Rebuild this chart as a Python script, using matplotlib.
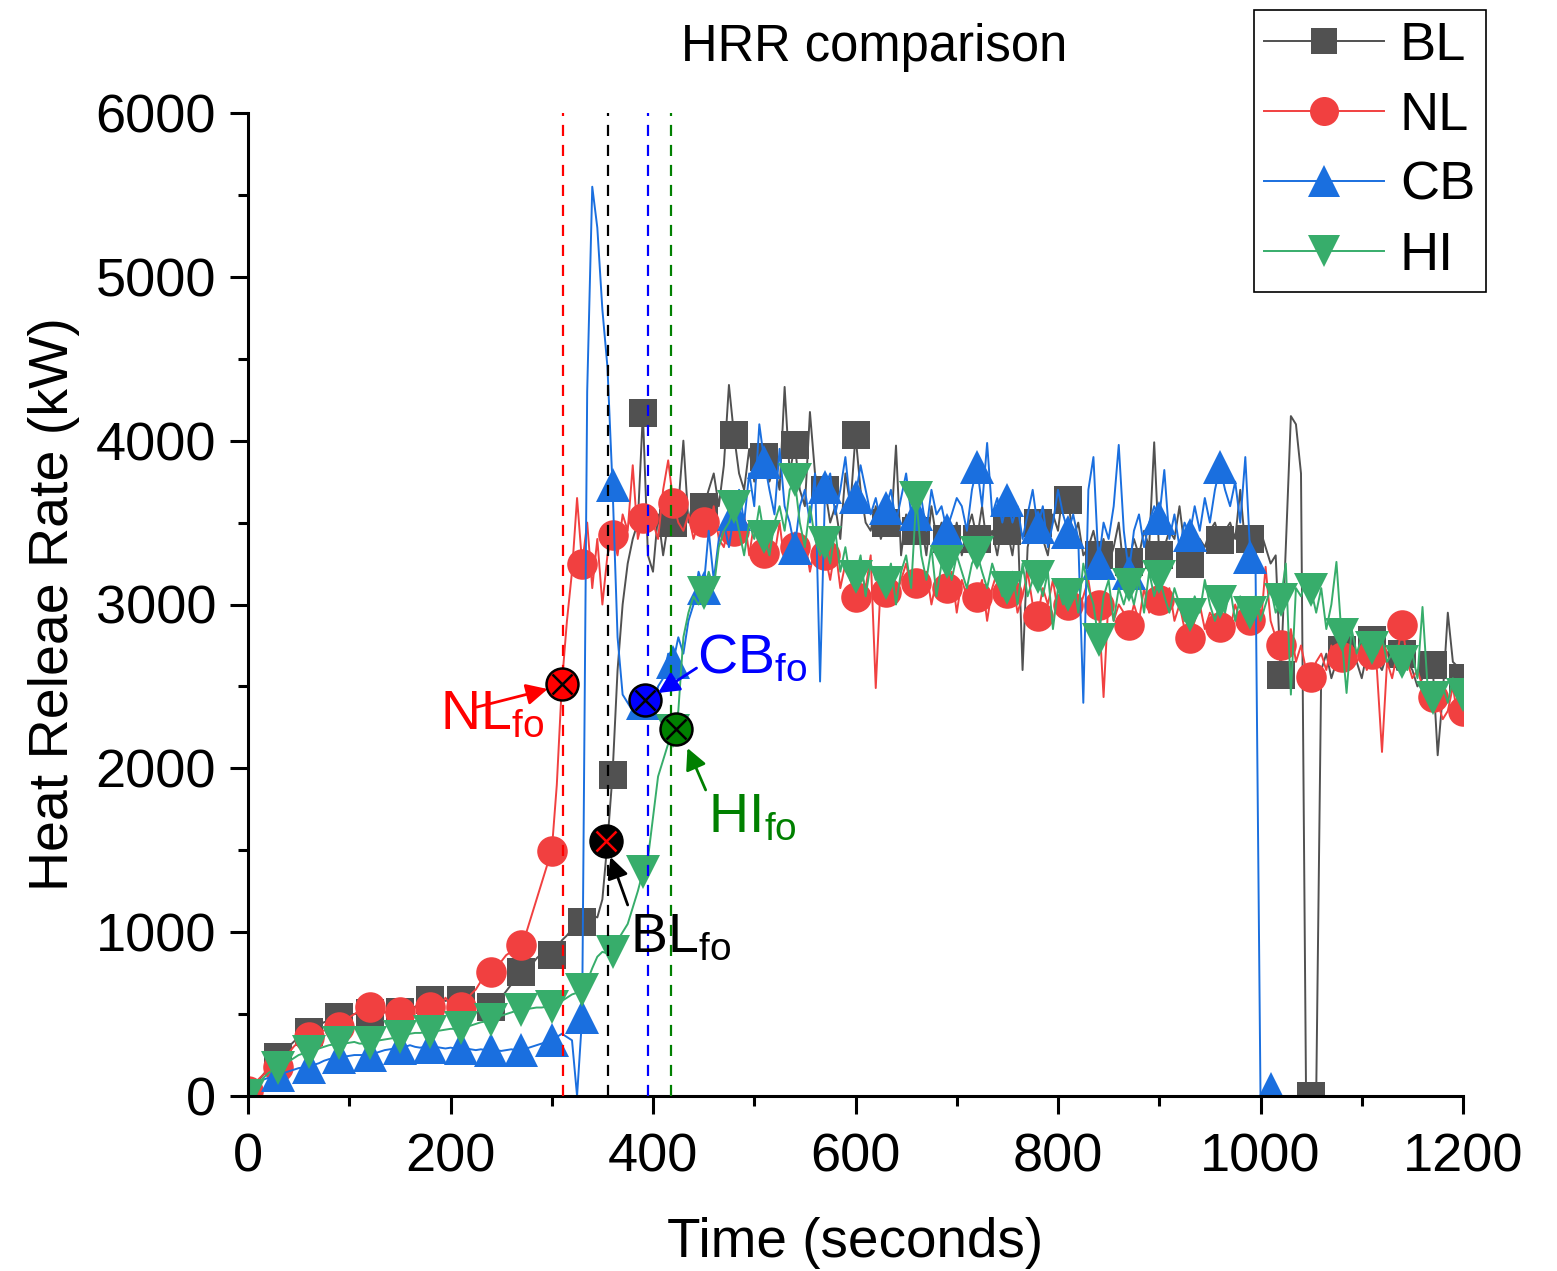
import numpy as np
import matplotlib
matplotlib.use('Agg')
import matplotlib.pyplot as plt
from matplotlib.lines import Line2D

plt.rcParams['font.family'] = ['Liberation Sans', 'DejaVu Sans']
plt.rcParams['mathtext.fontset'] = 'custom'
plt.rcParams['mathtext.rm'] = 'Liberation Sans'
plt.rcParams['mathtext.it'] = 'Liberation Sans:italic'

# ---------------- data (HRR in kW, sampled every 5 s) ----------------
time_step = 5

bl_hrr = [
    0, 40, 90, 130, 170, 210,
    238, 270, 300, 330, 360, 380,
    390, 410, 430, 450, 460, 470,
    482, 490, 500, 500, 505, 505,
    506, 510, 505, 510, 515, 510,
    510, 520, 530, 545, 560, 575,
    586, 590, 600, 580, 590, 585,
    586, 570, 560, 550, 545, 540,
    543, 560, 600, 640, 680, 720,
    757, 780, 800, 840, 870, 860,
    861, 900, 950, 980, 1020, 1050,
    1062, 1080, 1100, 1090, 1200, 1550,
    1959, 2600, 3000, 3250, 3400, 3500,
    4169, 3300, 3200, 3550, 3300, 3500,
    3497, 3600, 4000, 3500, 3650, 3550,
    3595, 3700, 3800, 3600, 3850, 4340,
    4035, 3800, 3700, 3950, 3750, 3800,
    3900, 3750, 3850, 3700, 4328, 3800,
    3974, 3700, 3600, 4175, 3800, 3650,
    3700, 3500, 3600, 3400, 3800, 3600,
    4035, 3700, 3500, 3450, 3600, 3400,
    3500, 3450, 3970, 3300, 3550, 3400,
    3450, 3500, 3300, 3600, 3400, 3500,
    3400, 3350, 3500, 3300, 3450, 3550,
    3400, 3600, 3350, 3450, 3300, 3500,
    3450, 3300, 3550, 2600, 3350, 3500,
    3500, 3400, 3300, 3550, 3450, 3700,
    3638, 3400, 3500, 3300, 3350, 3450,
    3300, 3400, 3250, 3350, 3500, 3200,
    3259, 3400, 3300, 3450, 3350, 3990,
    3300, 3350, 3450, 3400, 3600, 3350,
    3247, 3300, 3400, 3350, 3450, 3500,
    3394, 3450, 3500, 3400, 3700, 3350,
    3400, 3300, 3450, 3350, 3250, 3300,
    2570, 3350, 4150, 4100, 3800, 0,
    0, 0, 2600, 2700, 2550, 2650,
    2720, 2600, 2750, 2650, 2550, 2700,
    2783, 2650, 2600, 2700, 2750, 2600,
    2700, 2650, 2600, 2500, 2550, 2650,
    2631, 2080, 2450, 2950, 2650, 2619,
    2550,
]

nl_hrr = [
    30, 60, 100, 130, 150, 170,
    180, 220, 260, 300, 330, 350,
    360, 380, 390, 400, 410, 415,
    422, 450, 480, 500, 520, 535,
    543, 530, 520, 515, 510, 510,
    513, 520, 530, 540, 545, 545,
    543, 545, 550, 600, 560, 550,
    543, 560, 620, 650, 700, 730,
    757, 780, 820, 860, 880, 900,
    922, 1000, 1100, 1200, 1300, 1400,
    1495, 1900, 2515, 2900, 3200, 3650,
    3247, 3500, 3100, 3400, 3000, 3300,
    3424, 3300, 3550, 3450, 3850, 3400,
    3528, 3450, 3500, 3400, 3700, 3880,
    3620, 3500, 3450, 3550, 3400, 3500,
    3504, 3450, 3600, 3400, 3350, 3500,
    3450, 3400, 3550, 3300, 3500, 3350,
    3314, 3400, 3300, 3500, 3250, 3400,
    3350, 3300, 3400, 3200, 3350, 3250,
    3300, 3150, 3350, 3100, 3250, 3150,
    3046, 3200, 3100, 3300, 2490, 3150,
    3076, 3200, 3050, 3150, 3250, 3100,
    3131, 3050, 3200, 3000, 3150, 3050,
    3100, 3200, 2950, 3150, 3050, 3100,
    3046, 3150, 2900, 3100, 3200, 3000,
    3070, 3150, 2950, 3050, 3200, 3000,
    2930, 3100, 3000, 3150, 2950, 3050,
    3000, 3100, 2950, 3050, 3150, 2950,
    3000, 2435, 3050, 2900, 3000, 2950,
    2875, 3000, 2900, 3100, 2950, 3050,
    3027, 2950, 3100, 2900, 3000, 2850,
    2796, 2900, 3000, 2850, 2950, 2900,
    2863, 2950, 2850, 3000, 2900, 2950,
    2905, 2950, 2850, 3230, 2900, 2800,
    2753, 2700, 2850, 2650, 2750, 2600,
    2557, 2650, 2700, 2600, 2750, 2650,
    2680, 2600, 2750, 2650, 2700, 2600,
    2700, 2600, 2100, 2650, 2550, 2700,
    2875, 2650, 2550, 2600, 2500, 2450,
    2435, 2400, 2300, 2350, 2500, 2300,
    2350,
]

cb_hrr = [
    20, 50, 80, 100, 110, 120,
    128, 140, 150, 160, 170, 175,
    177, 190, 200, 215, 225, 230,
    238, 240, 245, 250, 250, 250,
    250, 260, 270, 280, 285, 290,
    293, 300, 310, 300, 295, 300,
    299, 300, 295, 290, 295, 290,
    293, 290, 285, 280, 285, 280,
    281, 280, 275, 280, 285, 280,
    281, 290, 300, 310, 320, 330,
    342, 360, 380, 360, 340, 0,
    482, 4300, 5550, 5300, 4800, 4450,
    3729, 2800, 2450, 2400, 2350, 2380,
    2400, 2450, 2350, 2500, 2550, 2700,
    2650, 2800, 2700, 2900, 3000, 3200,
    3100, 3450, 3150, 3400, 3500, 3350,
    3550, 3700, 3500, 3800, 3600, 4100,
    3870, 3700, 3550, 3950, 3600, 3500,
    3345, 3600, 3700, 3500, 3800, 2530,
    3717, 3800, 3550, 3700, 3900, 3600,
    3656, 3850, 3700, 3550, 3650, 3500,
    3589, 3700, 3500, 3650, 3800, 3550,
    3550, 3650, 3450, 3700, 3550, 3600,
    3455, 3550, 3650, 3600, 3450, 3700,
    3839, 3600, 3986, 3550, 3650, 3500,
    3638, 3500, 3600, 3400, 3550, 3700,
    3473, 3600, 3350, 3500, 3700, 3550,
    3443, 3550, 3400, 2400, 3700, 3900,
    3253, 3500, 3400, 3600, 3974, 3450,
    3192, 3450, 3550, 3350, 3500, 3600,
    3528, 3821, 3400, 3550, 3350, 3500,
    3424, 3600, 3450, 3650, 3500, 3700,
    3839, 3700, 3600, 3750, 3500, 3900,
    3290, 3300, 0, 0, 40,
]

hi_hrr = [
    0, 30, 70, 110, 140, 160,
    171, 190, 210, 230, 250, 260,
    269, 280, 290, 300, 310, 315,
    323, 320, 325, 330, 320, 320,
    323, 330, 340, 345, 350, 355,
    360, 370, 380, 385, 385, 390,
    391, 395, 400, 405, 410, 410,
    415, 420, 430, 440, 450, 455,
    464, 480, 490, 500, 510, 520,
    525, 530, 535, 540, 540, 545,
    543, 560, 580, 600, 620, 630,
    647, 700, 780, 850, 880, 870,
    879, 950, 1000, 1050, 1150, 1250,
    1367, 1450, 1700, 1950, 2050, 2150,
    2228, 2350, 2800, 2950, 3050, 3000,
    3070, 3200, 3100, 3350, 3450, 3500,
    3595, 3450, 3300, 3500, 3400, 3600,
    3412, 3300, 3500, 3600, 3450, 3700,
    3760, 3500, 3350, 3600, 3400, 3300,
    3375, 3250, 3450, 3200, 3350, 3150,
    3168, 3300, 3050, 3250, 3150, 3200,
    3131, 3250, 3000, 3200, 3300, 3100,
    3650, 3300, 3150, 3350, 3050, 3250,
    3259, 3150, 3300, 3200, 3100, 3250,
    3314, 3200, 3100, 3250, 3150, 3050,
    3101, 3200, 3000, 3250, 3050, 3150,
    3168, 3050, 3200, 2850, 3100, 3000,
    3058, 3150, 2950, 3250, 3100, 3000,
    2783, 3050, 3150, 2900, 3100, 3000,
    3119, 3000, 3150, 2950, 3200, 3050,
    3168, 3050, 2950, 3100, 3000, 2900,
    2936, 3050, 2950, 3150, 3000, 2900,
    3015, 2950, 3100, 2900, 3050, 2950,
    2948, 3050, 2900, 3000, 3100, 2950,
    3027, 3250, 2450, 3100, 3050, 3150,
    3089, 2950, 3100, 2850, 3000, 3260,
    2814, 2460, 2850, 2700, 2800, 2750,
    2734, 2700, 2800, 2650, 2700, 2750,
    2649, 2600, 2700, 2550, 2985, 2500,
    2429, 2450, 2500, 2400, 2550, 2450,
    2450,
]

series_names = ['BL', 'NL', 'CB', 'HI']
series_colors = ['#515151', '#F14040', '#1A6FDF', '#37AD6B']
series_markers = ['s', 'o', '^', 'v']

# flashover points
fo_names = ['NL', 'BL', 'CB', 'HI']
fo_time = [310, 354, 392, 423]
fo_hrr = [2515, 1555, 2415, 2240]
fo_line_time = [311, 356, 395, 418]
fo_colors = ['#FF0000', '#000000', '#0000FF', '#008000']
fo_fill = ['#FF0000', '#000000', '#0000FF', '#008000']
fo_cross = ['#000000', '#FF0000', '#000000', '#000000']
# label anchor (time, hrr), arrow tail, arrow head
fo_text_pos = [(190, 2240), (377, 879), (443, 2582), (454, 1611)]
fo_arrow_tail = [(226, 2374), (375, 1166), (443, 2612), (452, 1868)]
fo_arrow_head = [(296, 2484), (358, 1459), (405, 2460), (434, 2124)]

# ---------------- figure ----------------
W, H = 1557, 1271
fig = plt.figure(figsize=(W / 100, H / 100), dpi=100)
ax = fig.add_axes([248 / W, 1 - 1096 / H, (1463 - 248) / W, (1096 - 113) / H])

all_data = [bl_hrr, nl_hrr, cb_hrr, hi_hrr]
msizes = {'s': 20, 'o': 22, '^': 25, 'v': 25}
for name, data, col, mk in zip(series_names, all_data, series_colors, series_markers):
    t = np.arange(len(data)) * time_step
    me = list(range(0, len(data), 6))
    if (len(data) - 1) not in me:
        me.append(len(data) - 1)
    ax.plot(t, data, color=col, lw=1.4, marker=mk, markersize=msizes[mk],
            markevery=me, markeredgewidth=0, label=name)

# flashover dashed lines
for tl, c in zip(fo_line_time, fo_colors):
    ax.axvline(tl, color=c, lw=1.6, ls=(0, (5, 4)), zorder=4)

# flashover markers, arrows, labels
for i in range(len(fo_names)):
    ax.plot(fo_time[i], fo_hrr[i], marker='o', ms=23, mfc=fo_fill[i], mec='black',
            mew=1.8, zorder=10, clip_on=False)
    ax.plot(fo_time[i], fo_hrr[i], marker='x', ms=14, mec=fo_cross[i],
            mew=1.8, zorder=11, clip_on=False)
    ax.annotate('', xy=fo_arrow_head[i], xytext=fo_arrow_tail[i],
                arrowprops=dict(arrowstyle='-|>', color=fo_colors[i], lw=2,
                                mutation_scale=32, shrinkA=0, shrinkB=0),
                zorder=12)
    ax.text(fo_text_pos[i][0], fo_text_pos[i][1], fo_names[i] + r'$_{\mathrm{fo}}$',
            color=fo_colors[i], fontsize=40, ha='left', va='baseline', zorder=12)

ax.set_xlim(0, 1200)
ax.set_ylim(0, 6000)
ax.set_xticks(np.arange(0, 1201, 200))
ax.set_xticks(np.arange(0, 1201, 100), minor=True)
ax.set_yticks(np.arange(0, 6001, 1000))
ax.set_yticks(np.arange(0, 6001, 500), minor=True)
for s in ['top', 'right']:
    ax.spines[s].set_visible(False)
for s in ['left', 'bottom']:
    ax.spines[s].set_linewidth(2.2)
ax.tick_params(which='major', direction='out', length=13, width=2.2, labelsize=39)
ax.tick_params(axis='x', which='major', pad=13)
ax.tick_params(axis='y', which='major', pad=10)
ax.tick_params(which='minor', direction='out', length=7, width=2.2)

ax.set_xlabel('Time (seconds)', fontsize=39.5, labelpad=25)
ax.set_ylabel('Heat Releae Rate (kW)', fontsize=40, labelpad=11)
fig.text(874 / W, 1 - 47 / H, 'HRR comparison', fontsize=36.5, ha='center', va='center')

handles = [Line2D([0], [0], color=c, lw=1.4, marker=m, markersize=msizes[m] * 0.95,
                  markeredgewidth=0)
           for c, m in zip(series_colors, series_markers)]
leg = fig.legend(handles, series_names, loc='upper right',
                 bbox_to_anchor=(1486 / W, 1 - 10 / H), fontsize=39,
                 frameon=True, fancybox=False, edgecolor='black', framealpha=1,
                 handlelength=2.2, handletextpad=0.3, borderpad=0.2,
                 labelspacing=0.37, borderaxespad=0)
leg.get_frame().set_linewidth(1.2)

fig.savefig('out.png', dpi=100)
